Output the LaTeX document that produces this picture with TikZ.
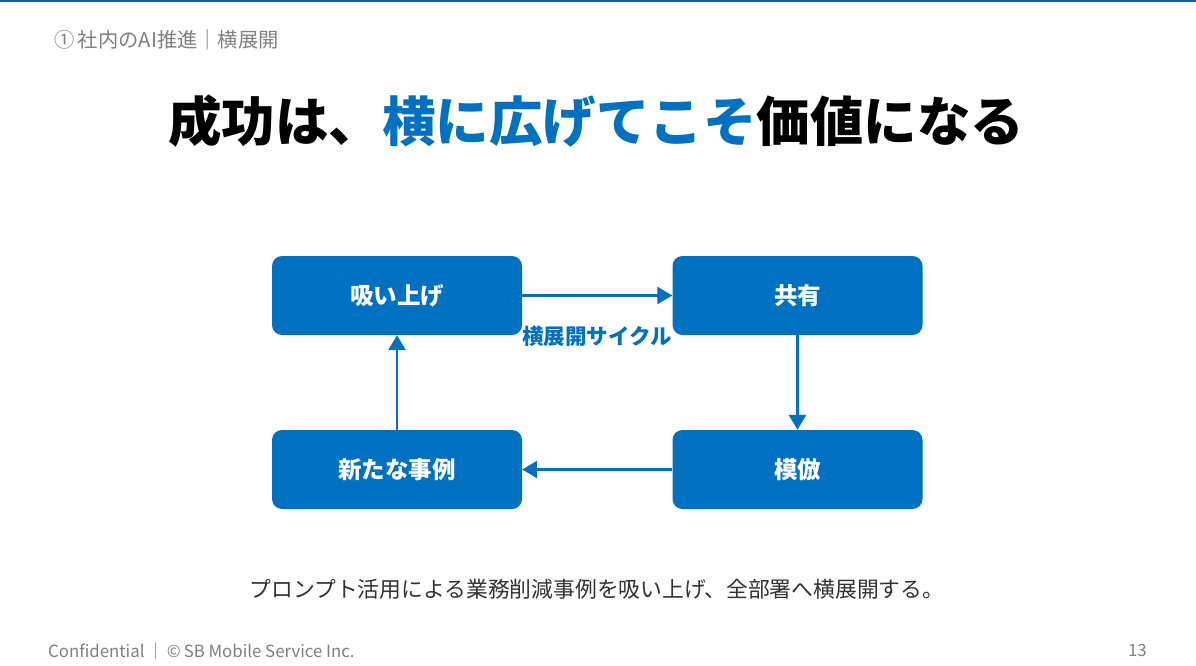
\documentclass[tikz,border=0pt]{standalone}
\usepackage{fontspec}
\setmainfont{Noto Sans CJK JP}
\usetikzlibrary{arrows.meta}
\definecolor{sbblue}{HTML}{0070C0}
\definecolor{topline}{HTML}{1F5FA0}
\definecolor{subgray}{HTML}{808080}
\definecolor{textdark}{HTML}{333333}
\begin{document}
\begin{tikzpicture}[x=1pt,y=-1pt,
  stage/.style={fill=sbblue,rounded corners=10pt,minimum width=250pt,minimum height=79pt,inner sep=0pt,text=white,font=\fontsize{23.5}{27}\selectfont\bfseries},
  flow/.style={draw=sbblue,line width=2.8pt,-{Triangle[length=15pt,width=17pt]}}]
\useasboundingbox (0,0) rectangle (1196,666);
\fill[white] (0,0) rectangle (1196,666);
\fill[topline] (0,0) rectangle (1196,2.5);
\node[anchor=west,text=subgray,font=\fontsize{20.3}{23}\selectfont,inner sep=0pt] (sub) at (54,40) {①\,社内のAI推進｜横展開};
\node[font=\fontsize{53.5}{62}\selectfont\bfseries,inner sep=0pt] (title) at (596,121) {成功は、\textcolor{sbblue}{横に広げてこそ}価値になる};
\node[stage] (a) at (397,295.5) {吸い上げ};
\node[stage] (b) at (797.5,295.5) {共有};
\node[stage] (c) at (797.5,469.5) {模倣};
\node[stage] (d) at (397,469.5) {新たな事例};
\draw[flow] (a.east) -- (b.west);
\draw[flow] (b.south) -- (c.north);
\draw[flow] (c.west) -- (d.east);
\draw[flow] (d.north) -- (a.south);
\node[text=sbblue,font=\fontsize{21.5}{25}\selectfont\bfseries,inner sep=0pt] (cyc) at (597,336) {横展開サイクル};
\node[text=textdark,font=\fontsize{21.8}{25}\selectfont,inner sep=0pt] (cap) at (597,589) {プロンプト活用による業務削減事例を吸い上げ、全部署へ横展開する。};
\node[anchor=west,text=subgray,font=\fontsize{16.8}{19}\selectfont,inner sep=0pt] (foot) at (48,651) {Confidential\,｜\,©\,SB Mobile Service Inc.};
\node[anchor=east,text=subgray,font=\fontsize{16.8}{19}\selectfont,inner sep=0pt] (page) at (1147,651) {13};
\end{tikzpicture}
\end{document}
